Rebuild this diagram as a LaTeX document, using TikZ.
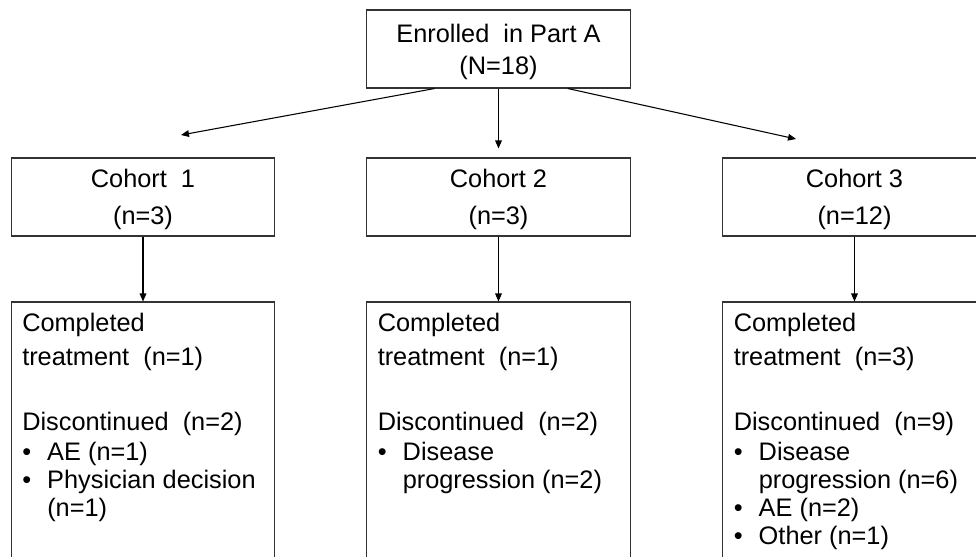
\documentclass[tikz,border=0pt]{standalone}
\usepackage{fontspec}
\setmainfont{Liberation Sans}
\usetikzlibrary{
    arrows.meta,
    positioning
}
\tikzset{
    every picture/.style = {
        > = {Triangle[length = 6pt, width = 5pt]},
        line width = 0.8pt
    },
    box/.style = {
        draw = black!80,
        inner sep = 0pt,
        minimum width = 197.6pt,
        minimum height = 58.5pt,
        text depth = 0pt,
        align = center,
        font = \fontsize{19}{25.5}\selectfont
    },
    listbox/.style = {
        box,
        minimum height = 210pt
    },
    listtext/.style = {
        inner sep = 0pt,
        align = left,
        font = \fontsize{19}{21}\selectfont
    }
}
\newcommand{\bulitem}{\makebox[18.75pt][l]{\textbullet}}
\newcommand{\bulcont}{\hspace*{18.75pt}}

\begin{document}
\begin{tikzpicture}[x = 0.75pt, y = -0.75pt]

    \useasboundingbox (0, 0) rectangle (976, 557);
    \clip (0, 0) rectangle (976, 557);

    \node[box, font = \fontsize{19}{24}\selectfont] (top) at (498.5, 49) {Enrolled~ in Part A\\(N=18)};

    \node[box, font = \fontsize{19}{27.5}\selectfont] (c1) at (143, 197) {Cohort~ 1\\(n=3)};
    \node[box, font = \fontsize{19}{27.5}\selectfont] (c2) at (498.5, 197) {Cohort 2\\(n=3)};
    \node[box, font = \fontsize{19}{27.5}\selectfont] (c3) at (854.5, 197) {Cohort 3\\(n=12)};

    \node[listbox] (b1) at (143, 442) {};
    \node[listbox] (b2) at (498.5, 442) {};
    \node[listbox] (b3) at (854.5, 442) {};

    % free ends of the slanted arrows
    \coordinate (lt) at (181, 135);
    \coordinate (rt) at (796, 139);

    \draw[->] ([xshift = -48pt]top.south) -- (lt);
    \draw[->, shorten > = 6.75pt] (top) -- (c2);
    \draw[->] ([xshift = 52pt]top.south) -- (rt);

    \draw[->] (c1) -- (b1);
    \draw[->] (c2) -- (b2);
    \draw[->] (c3) -- (b3);

    \node[listtext, below right = 8.5pt and 8.25pt of b1.north west] (t1) {
        Completed\\[4.5pt]
        treatment~ (n=1)\\[27.5pt]
        Discontinued~ (n=2)\\[1.5pt]
        \bulitem AE (n=1)\\
        \bulitem Physician decision\\
        \bulcont (n=1)
    };
    \node[listtext, below right = 8.5pt and 8.25pt of b2.north west] (t2) {
        Completed\\[4.5pt]
        treatment~ (n=1)\\[27.5pt]
        Discontinued~ (n=2)\\[1.5pt]
        \bulitem Disease\\
        \bulcont progression (n=2)
    };
    \node[listtext, below right = 8.5pt and 8.25pt of b3.north west] (t3) {
        Completed\\[4.5pt]
        treatment~ (n=3)\\[27.5pt]
        Discontinued~ (n=9)\\[1.5pt]
        \bulitem Disease\\
        \bulcont progression (n=6)\\
        \bulitem AE (n=2)\\
        \bulitem Other (n=1)
    };

\end{tikzpicture}
\end{document}
